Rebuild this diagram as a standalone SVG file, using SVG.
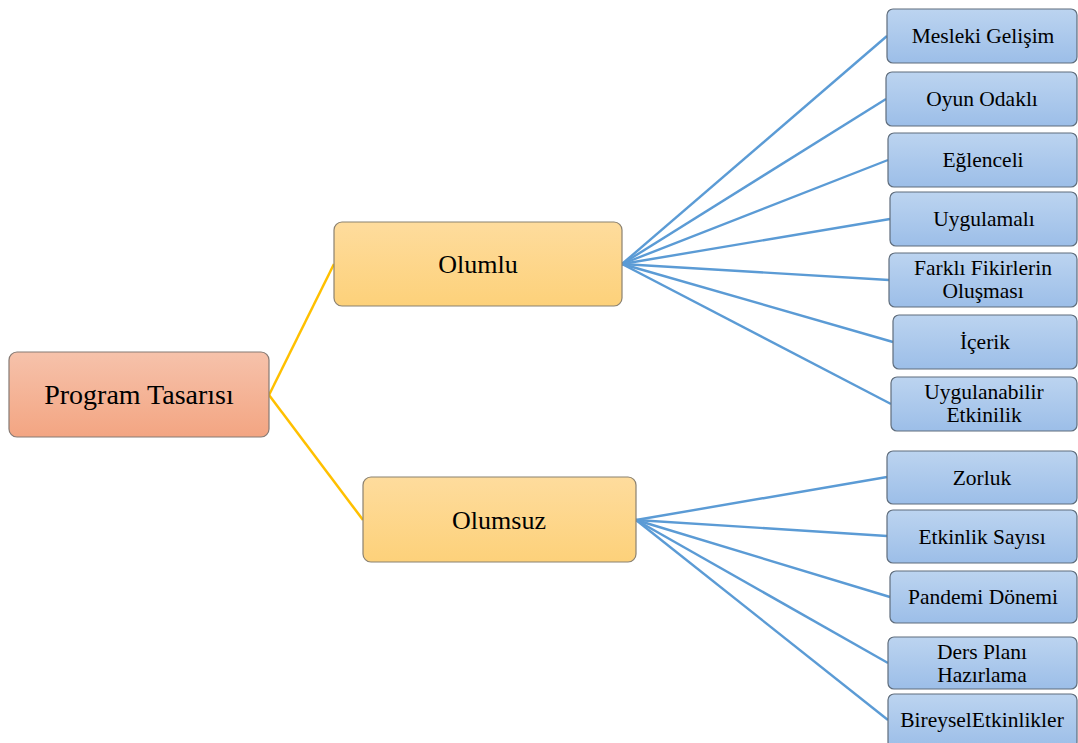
<svg xmlns="http://www.w3.org/2000/svg" width="1078" height="743" viewBox="0 0 1078 743">
  <defs>
    <linearGradient id="gRoot" x1="0" y1="0" x2="0" y2="1">
      <stop offset="0" stop-color="#f6c2ab"/>
      <stop offset="1" stop-color="#f3a582"/>
    </linearGradient>
    <linearGradient id="gMid" x1="0" y1="0" x2="0" y2="1">
      <stop offset="0" stop-color="#fedc9d"/>
      <stop offset="1" stop-color="#fdd17a"/>
    </linearGradient>
    <linearGradient id="gLeaf" x1="0" y1="0" x2="0" y2="1">
      <stop offset="0" stop-color="#bcd4f0"/>
      <stop offset="1" stop-color="#9cbee8"/>
    </linearGradient>
  </defs>
  <style>
    .root { fill: url(#gRoot); stroke: #857a74; stroke-width: 1.2; }
    .mid { fill: url(#gMid); stroke: #8a8171; stroke-width: 1.2; }
    .leaf { fill: url(#gLeaf); stroke: #5f6d7c; stroke-width: 1.2; }
    text { font-family: "Liberation Serif", "Times New Roman", serif; fill: #000; text-anchor: middle; }
    .big { font-size: 26px; }
    .small { font-size: 21.5px; }
    .y { stroke: #ffc000; stroke-width: 2.5; fill: none; }
    .b { stroke: #5b9bd5; stroke-width: 2.4; fill: none; }
  </style>

  <g id="connectors">
    <line class="y" x1="269" y1="395" x2="334" y2="264"/>
    <line class="y" x1="269" y1="395" x2="363" y2="520"/>
    <line class="b" x1="622" y1="264" x2="887" y2="36"/>
    <line class="b" x1="622" y1="264" x2="886" y2="99"/>
    <line class="b" x1="622" y1="264" x2="888" y2="160"/>
    <line class="b" x1="622" y1="264" x2="890" y2="219"/>
    <line class="b" x1="622" y1="264" x2="889" y2="280"/>
    <line class="b" x1="622" y1="264" x2="893" y2="342"/>
    <line class="b" x1="622" y1="264" x2="891" y2="404"/>
    <line class="b" x1="636" y1="520" x2="887" y2="477"/>
    <line class="b" x1="636" y1="520" x2="887" y2="536"/>
    <line class="b" x1="636" y1="520" x2="890" y2="597"/>
    <line class="b" x1="636" y1="520" x2="888" y2="663"/>
    <line class="b" x1="636" y1="520" x2="888" y2="720"/>
  </g>

  <g id="program-tasarisi">
    <rect class="root" x="9" y="352" width="260" height="85" rx="8"/>
    <text class="big" x="139" y="404" style="font-size:28px">Program Tasarısı</text>
  </g>

  <g id="olumlu">
    <rect class="mid" x="334" y="222" width="288" height="84" rx="8"/>
    <text class="big" x="478" y="273">Olumlu</text>
  </g>

  <g id="olumsuz">
    <rect class="mid" x="363" y="477" width="273" height="85" rx="8"/>
    <text class="big" x="499" y="529">Olumsuz</text>
  </g>

  <g id="mesleki-gelisim">
    <rect class="leaf" x="887" y="9" width="190" height="54" rx="6"/>
    <text class="small" x="983" y="43">Mesleki Gelişim</text>
  </g>
  <g id="oyun-odakli">
    <rect class="leaf" x="886" y="72" width="191" height="54" rx="6"/>
    <text class="small" x="982" y="106">Oyun Odaklı</text>
  </g>
  <g id="eglenceli">
    <rect class="leaf" x="888" y="133" width="189" height="54" rx="6"/>
    <text class="small" x="983" y="167">Eğlenceli</text>
  </g>
  <g id="uygulamali">
    <rect class="leaf" x="890" y="192" width="187" height="54" rx="6"/>
    <text class="small" x="984" y="226">Uygulamalı</text>
  </g>
  <g id="farkli-fikirlerin-olusmasi">
    <rect class="leaf" x="889" y="253" width="188" height="54" rx="6"/>
    <text class="small" x="983" y="275">Farklı Fikirlerin</text>
    <text class="small" x="983" y="298">Oluşması</text>
  </g>
  <g id="icerik">
    <rect class="leaf" x="893" y="315" width="184" height="54" rx="6"/>
    <text class="small" x="985" y="349">İçerik</text>
  </g>
  <g id="uygulanabilir-etkinilik">
    <rect class="leaf" x="891" y="377" width="186" height="54" rx="6"/>
    <text class="small" x="984" y="399">Uygulanabilir</text>
    <text class="small" x="984" y="422">Etkinilik</text>
  </g>

  <g id="zorluk">
    <rect class="leaf" x="887" y="451" width="190" height="53" rx="6"/>
    <text class="small" x="982" y="485">Zorluk</text>
  </g>
  <g id="etkinlik-sayisi">
    <rect class="leaf" x="887" y="510" width="190" height="53" rx="6"/>
    <text class="small" x="982" y="544">Etkinlik Sayısı</text>
  </g>
  <g id="pandemi-donemi">
    <rect class="leaf" x="890" y="571" width="187" height="52" rx="6"/>
    <text class="small" x="983" y="604">Pandemi Dönemi</text>
  </g>
  <g id="ders-plani-hazirlama">
    <rect class="leaf" x="888" y="637" width="189" height="52" rx="6"/>
    <text class="small" x="982" y="659">Ders Planı</text>
    <text class="small" x="982" y="682">Hazırlama</text>
  </g>
  <g id="bireysel-etkinlikler">
    <rect class="leaf" x="888" y="694" width="189" height="54" rx="6"/>
    <text class="small" x="982" y="727">BireyselEtkinlikler</text>
  </g>
</svg>
